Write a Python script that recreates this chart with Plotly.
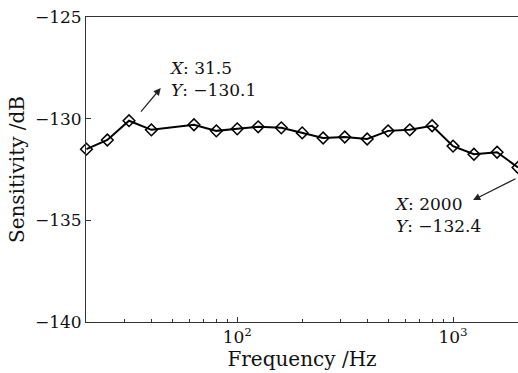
import plotly.graph_objects as go

freq = [20, 25, 31.5, 40, 63, 80, 100, 125, 160, 200, 250, 315, 400, 500, 630, 800, 1000, 1250, 1600, 2000]
sens = [-131.5, -131.05, -130.1, -130.55, -130.3, -130.6, -130.5, -130.4, -130.45, -130.7,
        -130.95, -130.9, -131.0, -130.6, -130.55, -130.35, -131.35, -131.75, -131.65, -132.4]

x_tickvals = [100, 1000]
x_ticktext = ["10<sup>2</sup>", "10<sup>3</sup>"]
x_minor = [30, 40, 50, 60, 70, 80, 90, 200, 300, 400, 500, 600, 700, 800, 900]
y_tickvals = [-125, -130, -135, -140]
y_ticktext = ["\u2212125", "\u2212130", "\u2212135", "\u2212140"]

FONT = "DejaVu Serif"

fig = go.Figure()
fig.add_trace(go.Scatter(
    x=freq, y=sens, mode="lines+markers",
    line=dict(color="black", width=2),
    marker=dict(symbol="diamond-open", size=9, color="black", line=dict(width=1.5, color="black")),
    cliponaxis=False, showlegend=False,
))

fig.update_layout(
    width=518, height=373,
    margin=dict(l=86, r=0, t=17, b=51),
    paper_bgcolor="white", plot_bgcolor="white",
    font=dict(family=FONT, size=17, color="#111"),
    xaxis=dict(
        type="log", range=[1.299, 3.30103],
        tickvals=x_tickvals, ticktext=x_ticktext,
        ticks="inside", ticklen=5, tickcolor="#333",
        minor=dict(tickvals=x_minor, ticks="inside", ticklen=3, tickcolor="#333"),
        showline=True, linecolor="#333", linewidth=1, mirror=True,
        showgrid=False, zeroline=False,
        title=dict(text="Frequency /Hz", standoff=2),
    ),
    yaxis=dict(
        range=[-140, -125],
        tickvals=y_tickvals, ticktext=y_ticktext,
        ticks="inside", ticklen=5, tickcolor="#333",
        showline=True, linecolor="#333", linewidth=1, mirror=False,
        showgrid=False, zeroline=False,
        title=dict(text="Sensitivity /dB", standoff=4),
    ),
)

fig.add_annotation(xref="paper", yref="paper", x=0.1875, y=0.797,
                   text="<i>X</i>: 31.5<br><i>Y</i>: \u2212130.1", showarrow=False,
                   xanchor="left", yanchor="middle", align="left",
                   font=dict(family=FONT, size=17, color="#111"))
fig.add_annotation(xref="paper", yref="paper", x=0.173, y=0.767, text="",
                   showarrow=True, ax=-21, ay=25, arrowhead=2, arrowsize=1.2,
                   arrowwidth=1.2, arrowcolor="#222")
fig.add_annotation(xref="paper", yref="paper", x=0.708, y=0.351,
                   text="<i>X</i>: 2000<br><i>Y</i>: \u2212132.4", showarrow=False,
                   xanchor="left", yanchor="middle", align="left",
                   font=dict(family=FONT, size=17, color="#111"))
fig.add_annotation(xref="paper", yref="paper", x=0.896, y=0.40, text="",
                   showarrow=True, ax=44, ay=-22, arrowhead=2, arrowsize=1.2,
                   arrowwidth=1.2, arrowcolor="#222")

fig.write_html("out.html")
